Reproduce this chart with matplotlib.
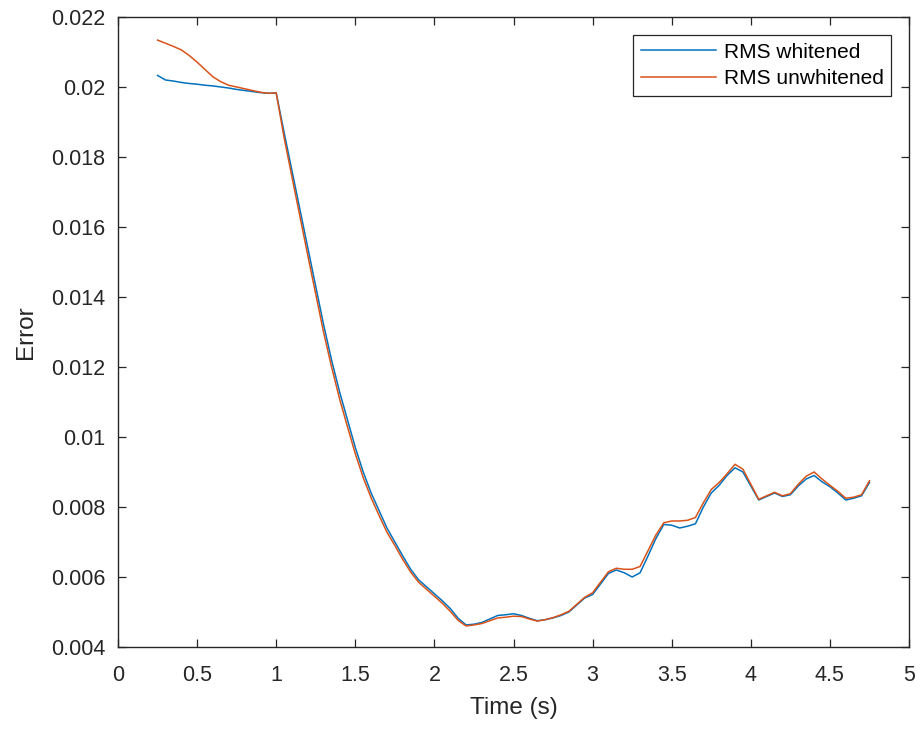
import numpy as np
import matplotlib
matplotlib.use("Agg")
import matplotlib.pyplot as plt

# time axis (s)
time = np.round(np.arange(0.25, 4.751, 0.05), 2)

rms_whitened = [
    0.02033, 0.02020, 0.02017, 0.02013, 0.02010, 0.02008, 0.02005, 0.02003,
    0.02000, 0.01997, 0.01993, 0.01990, 0.01987, 0.01984, 0.01982,
    0.01983, 0.01870, 0.01760, 0.01650, 0.01540, 0.01430, 0.01320, 0.01220,
    0.01130, 0.01050, 0.00970, 0.00900, 0.00840, 0.00790, 0.00740, 0.00700,
    0.00660, 0.00622, 0.00592, 0.00572, 0.00552, 0.00532, 0.00510, 0.00482,
    0.00463, 0.00465, 0.00470, 0.00480, 0.00490, 0.00492, 0.00495, 0.00490,
    0.00482, 0.00475, 0.00478, 0.00483, 0.00490, 0.00500, 0.00520, 0.00540,
    0.00550, 0.00580, 0.00610, 0.00620, 0.00612, 0.00600, 0.00612, 0.00660,
    0.00710, 0.00750, 0.00748, 0.00740, 0.00745, 0.00752, 0.00800, 0.00840,
    0.00862, 0.00890, 0.00912, 0.00900, 0.00860, 0.00820, 0.00830, 0.00840,
    0.00830, 0.00835, 0.00860, 0.00880, 0.00890, 0.00872, 0.00858, 0.00840,
    0.00820, 0.00825, 0.00832, 0.00870,
]

rms_unwhitened = [
    0.02134, 0.02125, 0.02116, 0.02106, 0.02090, 0.02071, 0.02050, 0.02029,
    0.02015, 0.02005, 0.02000, 0.01995, 0.01990, 0.01985, 0.01982,
    0.01983, 0.01855, 0.01742, 0.01630, 0.01518, 0.01408, 0.01298, 0.01200,
    0.01110, 0.01030, 0.00952, 0.00884, 0.00826, 0.00776, 0.00728, 0.00690,
    0.00650, 0.00614, 0.00585, 0.00565, 0.00545, 0.00525, 0.00502, 0.00476,
    0.00460, 0.00463, 0.00467, 0.00475, 0.00483, 0.00485, 0.00488, 0.00487,
    0.00480, 0.00474, 0.00478, 0.00484, 0.00492, 0.00502, 0.00522, 0.00542,
    0.00555, 0.00585, 0.00615, 0.00625, 0.00622, 0.00622, 0.00630, 0.00675,
    0.00720, 0.00755, 0.00760, 0.00760, 0.00762, 0.00770, 0.00812, 0.00850,
    0.00870, 0.00895, 0.00922, 0.00908, 0.00865, 0.00822, 0.00832, 0.00842,
    0.00832, 0.00838, 0.00865, 0.00888, 0.00900, 0.00880, 0.00862, 0.00845,
    0.00825, 0.00828, 0.00835, 0.00875,
]

plt.rcParams['font.family'] = ['Liberation Sans', 'DejaVu Sans']
plt.rcParams['xtick.direction'] = 'in'
plt.rcParams['ytick.direction'] = 'in'

fig = plt.figure(figsize=(9.24, 7.29), dpi=100)
ax = fig.add_axes([0.1277, 0.1125, 0.8561, 0.8642])

ax.plot(time, rms_whitened, color='#0072BD', lw=1.1, label='RMS whitened')
ax.plot(time, rms_unwhitened, color='#D95319', lw=1.1, label='RMS unwhitened')

ax.set_xlim(0, 5)
ax.set_ylim(0.004, 0.022)
ax.set_xticks(np.arange(0, 5.01, 0.5))
ax.set_xticklabels(['0', '0.5', '1', '1.5', '2', '2.5', '3', '3.5', '4', '4.5', '5'])
ax.set_yticks(np.arange(0.004, 0.02201, 0.002))
ax.set_yticklabels(['0.004', '0.006', '0.008', '0.01', '0.012', '0.014', '0.016',
                    '0.018', '0.02', '0.022'])
ax.tick_params(which='both', top=True, right=True, length=6, width=0.9,
               labelsize=15.5, colors='#262626')
ax.tick_params(axis='y', pad=9)
ax.tick_params(axis='x', pad=13)
for s in ax.spines.values():
    s.set_color('#262626')
    s.set_linewidth(1.0)

ax.set_xlabel('Time (s)', fontsize=17.5, color='#262626', labelpad=8)
ax.set_ylabel('Error', fontsize=17.5, color='#262626', labelpad=10)

leg = ax.legend(loc='upper right', fontsize=15, frameon=True, fancybox=False,
                edgecolor='#262626', framealpha=1, borderaxespad=0.85,
                handlelength=3.6, handletextpad=0.35, borderpad=0.38,
                labelspacing=0.35)
leg.get_frame().set_linewidth(0.9)

fig.savefig('out.png', dpi=100)
